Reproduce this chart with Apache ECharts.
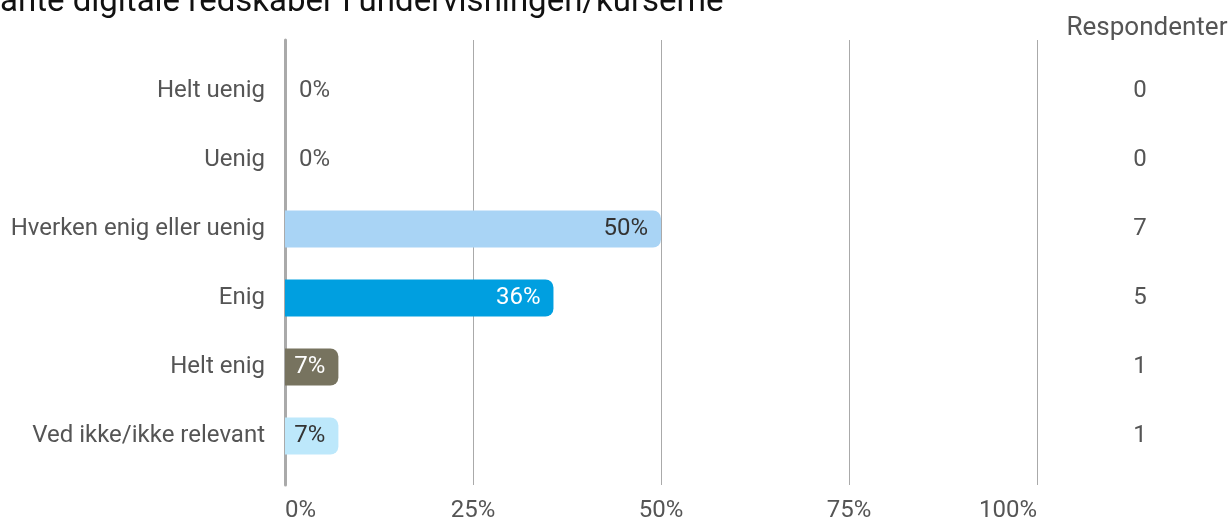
<!DOCTYPE html>
<html>
<head>
<meta charset="utf-8">
<script src="https://cdn.jsdelivr.net/npm/echarts@6/dist/echarts.min.js"></script>
<style>html,body{margin:0;padding:0;background:#fff}#c{width:1231px;height:523px}</style>
</head>
<body>
<div id="c"></div>
<script>
const categories = ['Helt uenig', 'Uenig', 'Hverken enig eller uenig', 'Enig', 'Helt enig', 'Ved ikke/ikke relevant'];
const percentages = [0, 0, 50, 35.7, 7.1, 7.1];
const respondents = [0, 0, 7, 5, 1, 1];
const barColors = ['#a9d4f5', '#a9d4f5', '#a9d4f5', '#009fe0', '#77735f', '#bde8fb'];
const labelColors = ['#555555', '#555555', '#333333', '#ffffff', '#ffffff', '#333333'];
const xTicks = [0, 25, 50, 75, 100];
const titleText = 'ante digitale redskaber i undervisningen/kurserne';
const columnTitle = 'Respondenter';

const FONT = 'Roboto';
const FS = 24;
const chart = echarts.init(document.getElementById('c'));

const barData = percentages.map((v, i) => ({
  value: v,
  itemStyle: { color: barColors[i], borderRadius: [0, 8, 8, 0] },
  label: {
    show: true,
    position: v > 0 ? 'insideRight' : 'right',
    distance: v > 0 ? 13 : 14,
    color: labelColors[i],
    fontSize: FS,
    fontFamily: FONT,
    formatter: () => Math.round(v) + '%'
  }
}));

chart.setOption({
  animation: false,
  graphic: [
    { type: 'text', x: 0, y: -14, style: { text: titleText, fontSize: 33, fontFamily: FONT, fill: '#111' } },
    { type: 'text', x: 1147, y: 28, style: { text: columnTitle, fontSize: 26, fontFamily: FONT, fill: '#555', align: 'center', verticalAlign: 'middle' } }
  ],
  grid: [
    { left: 285, width: 752, top: 56.5, height: 414 },
    { left: 285, width: 752, top: 40, height: 445 }
  ],
  xAxis: [
    { gridIndex: 0, type: 'value', min: 0, max: 100, interval: 25, show: false },
    {
      gridIndex: 1, type: 'value', min: 0, max: 100, interval: 25,
      axisLine: { show: false }, axisTick: { show: false },
      splitLine: { show: true, lineStyle: { color: '#aaaaaa', width: 1 } },
      axisLabel: { color: '#555', fontSize: FS, fontFamily: FONT, margin: 14, alignMinLabel: 'left', alignMaxLabel: 'right',
        formatter: v => xTicks.includes(v) ? v + '%' : '' }
    }
  ],
  yAxis: [
    {
      gridIndex: 0, type: 'category', data: categories, inverse: true,
      axisLine: { show: false }, axisTick: { show: false },
      axisLabel: { color: '#555', fontSize: FS, fontFamily: FONT, margin: 20 }
    },
    {
      gridIndex: 0, type: 'category', data: respondents.map(String), inverse: true, position: 'right',
      axisLine: { show: false }, axisTick: { show: false },
      axisLabel: { color: '#555', fontSize: FS, fontFamily: FONT, margin: 103, align: 'center' }
    },
    {
      gridIndex: 1, type: 'value', min: 0, max: 1, show: true,
      axisLine: { show: true, lineStyle: { color: '#aaaaaa', width: 3 } },
      axisTick: { show: false }, axisLabel: { show: false }, splitLine: { show: false }
    }
  ],
  series: [
    {
      type: 'bar', xAxisIndex: 0, yAxisIndex: 0, data: barData, barWidth: 37, silent: true
    }
  ]
});
</script>
</body>
</html>
